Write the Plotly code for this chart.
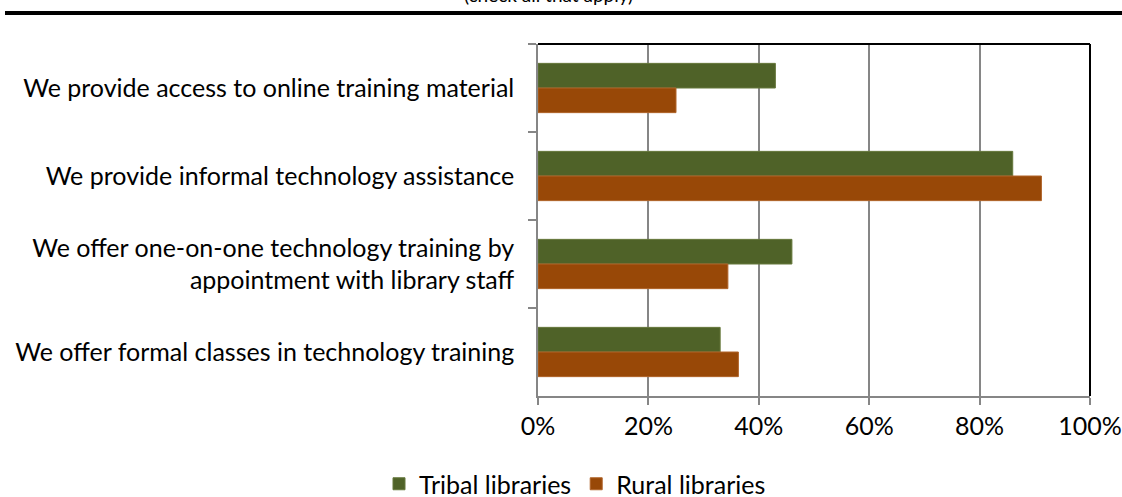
import plotly.graph_objects as go

categories = [
    "We provide access to online training material",
    "We provide informal technology assistance",
    "We offer one-on-one technology training by<br>appointment with library staff",
    "We offer formal classes in technology training",
]
tribal = [0.43, 0.86, 0.46, 0.33]
rural = [0.25, 0.912, 0.344, 0.363]
x_ticks = [0, 0.2, 0.4, 0.6, 0.8, 1.0]
x_tick_labels = ["0%", "20%", "40%", "60%", "80%", "100%"]

GREEN = "#4F6228"
ORANGE = "#984807"
FONT = "Lato, Carlito, Calibri, sans-serif"
FS = 25

fig = go.Figure()
fig.add_trace(go.Bar(
    y=categories, x=tribal, orientation="h", name="Tribal libraries",
    marker=dict(color=GREEN, line=dict(color="#66783c", width=1)),
))
fig.add_trace(go.Bar(
    y=categories, x=rural, orientation="h", name="Rural libraries",
    marker=dict(color=ORANGE, line=dict(color="#b0642a", width=1)),
))

fig.update_layout(
    width=1122, height=497,
    margin=dict(l=538, r=32, t=44, b=101, autoexpand=False),
    paper_bgcolor="white", plot_bgcolor="white",
    font=dict(family=FONT, size=FS, color="#000000"),
    barmode="group", bargap=0.44, bargroupgap=0,
    showlegend=True,
    legend=dict(orientation="h", x=(575 - 538) / 552, xanchor="center",
                y=-(484 - 396) / 352, yanchor="middle",
                traceorder="normal", font=dict(size=FS), itemwidth=30),
)
fig.update_xaxes(
    range=[0, 1], tickvals=x_ticks, ticktext=x_tick_labels,
    showgrid=True, gridcolor="#868686", gridwidth=1.5,
    showline=True, linecolor="#868686", linewidth=1.5,
    ticks="outside", ticklen=7, tickcolor="#868686", tickwidth=1.5,
    zeroline=False, fixedrange=True, automargin=False,
)
fig.update_yaxes(
    categoryorder="array", categoryarray=categories, autorange="reversed",
    showgrid=False, showline=True, linecolor="#868686", linewidth=1.5,
    ticks="outside", ticklen=8, tickcolor="#868686", tickwidth=1.5,
    tickson="boundaries", ticklabelstandoff=17, fixedrange=True, automargin=False,
)
# dark plot border (top and right)
fig.add_shape(type="line", xref="paper", yref="paper", x0=0, x1=1, y0=1, y1=1,
              line=dict(color="#000000", width=2))
fig.add_shape(type="line", xref="paper", yref="paper", x0=1, x1=1, y0=0, y1=1,
              line=dict(color="#000000", width=2))
# thick rule from the document above
fig.add_shape(type="line", xref="paper", yref="paper", x0=(5 - 538) / 552, x1=(1122 - 538) / 552,
              y0=(396 - 13) / 352, y1=(396 - 13) / 352,
              line=dict(color="#000000", width=4))
# partially visible title from above
fig.add_annotation(text="(check all that apply)", xref="paper", yref="paper",
                   x=(462 - 538) / 552, y=(396 - 8) / 352, yanchor="bottom",
                   showarrow=False, font=dict(size=19))

fig.write_html(
    "out.html",
    config={"displayModeBar": False},
    post_script="document.body.style.margin='0';document.body.style.padding='0';",
)
